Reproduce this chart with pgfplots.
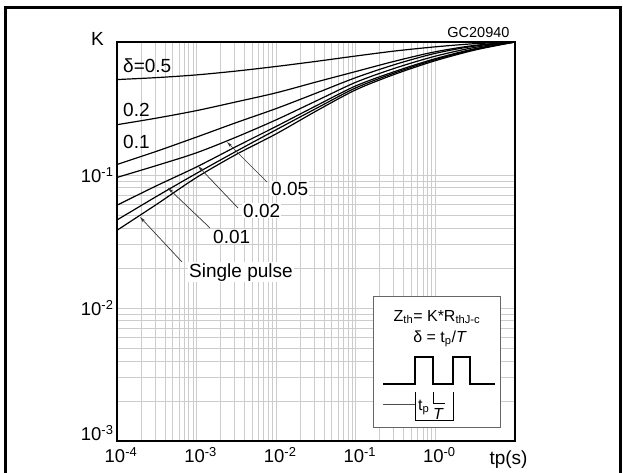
\documentclass[border=0pt]{standalone}
\usepackage{fontspec}
\setmainfont{Liberation Sans}
\usepackage{pgfplots}
\pgfplotsset{compat=1.18}
\usetikzlibrary{arrows.meta}
\begin{document}
\begin{tikzpicture}
\path[use as bounding box, clip] (0pt,0pt) rectangle (623pt,-473pt);
\begin{axis}[
  at={(117pt,-441pt)}, anchor=south west,
  scale only axis, width=398pt, height=399pt,
  xmode=log, ymode=log,
  xmin=1e-4, xmax=10, ymin=1e-3, ymax=1,
  xtick={1e-4,1e-3,1e-2,1e-1,1},
  xticklabels={10\textsuperscript{-4},10\textsuperscript{-3},10\textsuperscript{-2},10\textsuperscript{-1},10\textsuperscript{-0}},
  ytick={1e-3,1e-2,1e-1},
  yticklabels={\raisebox{8pt}[\height][\depth]{10\textsuperscript{-3}},10\textsuperscript{-2},10\textsuperscript{-1}},
  x tick label style={xshift=4pt, yshift=-3pt},
  tick label style={font=\fontsize{18.5}{20}\selectfont},
  grid=both,
  major grid style={draw=gray!40, line width=0.8pt},
  minor grid style={draw=gray!40, line width=0.8pt},
  tick style={draw=none},
  axis line style={line width=1.3pt},
  curve/.style={black, solid, line width=1.2pt, smooth, mark=none},
]
% delta = 0.5
\addplot[curve] coordinates {(1e-4,0.522) (3.16e-4,0.540) (1e-3,0.566) (3.16e-3,0.605) (1e-2,0.655) (3.16e-2,0.715) (1e-1,0.785) (3.16e-1,0.857) (1,0.920) (3.16,0.972) (10,1)};
% delta = 0.2
\addplot[curve] coordinates {(1e-4,0.239) (3.16e-4,0.268) (1e-3,0.305) (3.16e-3,0.355) (1e-2,0.415) (3.16e-2,0.500) (1e-1,0.600) (3.16e-1,0.720) (1,0.845) (3.16,0.944) (10,1)};
% delta = 0.1
\addplot[curve] coordinates {(1e-4,0.120) (3.16e-4,0.151) (1e-3,0.193) (3.16e-3,0.248) (1e-2,0.316) (3.16e-2,0.412) (1e-1,0.540) (3.16e-1,0.680) (1,0.822) (3.16,0.933) (10,1)};
% delta = 0.05
\addplot[curve] coordinates {(1e-4,0.0959) (3.16e-4,0.118) (1e-3,0.147) (3.16e-3,0.193) (1e-2,0.260) (3.16e-2,0.360) (1e-1,0.498) (3.16e-1,0.638) (1,0.783) (3.16,0.912) (10,1)};
% delta = 0.02
\addplot[curve] coordinates {(1e-4,0.0593) (3.16e-4,0.0832) (1e-3,0.115) (3.16e-3,0.164) (1e-2,0.232) (3.16e-2,0.331) (1e-1,0.468) (3.16e-1,0.603) (1,0.750) (3.16,0.891) (10,1)};
% delta = 0.01
\addplot[curve] coordinates {(1e-4,0.0459) (3.16e-4,0.0692) (1e-3,0.103) (3.16e-3,0.151) (1e-2,0.219) (3.16e-2,0.316) (1e-1,0.452) (3.16e-1,0.589) (1,0.738) (3.16,0.881) (10,1)};
% single pulse
\addplot[curve] coordinates {(1e-4,0.0384) (3.16e-4,0.0603) (1e-3,0.0959) (3.16e-3,0.143) (1e-2,0.204) (3.16e-2,0.302) (1e-1,0.437) (3.16e-1,0.575) (1,0.724) (3.16,0.871) (10,1)};
\end{axis}
\begin{scope}[x=1pt,y=-1pt]
\draw[line width=3pt] (5.5,7.5) rectangle (620.5,520);
\node[font=\fontsize{19}{20}\selectfont] at (97.5,38.5) {K};
\node[anchor=base east, font=\fontsize{14.5}{16}\selectfont] at (513,38) {GC20940};
\node[anchor=base west, font=\fontsize{19}{20}\selectfont] at (486,464) {tp(s)};
\begin{scope}[font=\fontsize{19}{20}\selectfont]
\node[anchor=base west, inner sep=0pt] at (123,73) {δ=0.5};
\node[anchor=base west, inner sep=0pt] at (123,117) {0.2};
\node[anchor=base west, inner sep=0pt] at (123,149) {0.1};
\node[anchor=base west, inner sep=1pt, fill=white] at (270,195) {0.05};
\node[anchor=base west, inner sep=1pt, fill=white] at (242,217) {0.02};
\node[anchor=base west, inner sep=1pt, fill=white] at (212,243) {0.01};
\node[anchor=base west, inner sep=1pt, fill=white] at (188,277) {Single pulse};
\end{scope}
\begin{scope}[draw=black!80, line width=0.7pt, -{Stealth[length=6pt,width=3pt]}]
\draw (267,182) -- (227,142);
\draw (238,208) -- (198,166);
\draw (210,228) -- (168,188);
\draw (182,262) -- (140,217);
\end{scope}
% inset
\draw[fill=white, draw=black!60, line width=0.8pt] (373,296) rectangle (500,427);
\node[font=\fontsize{16}{17}\selectfont] at (437,317) {Z\textsubscript{th}= K*R\textsubscript{thJ-c}};
\node[font=\fontsize{16}{17}\selectfont] at (440,339) {δ = t\textsubscript{p}/\textit{T}};
\draw[line width=1.4pt] (383,384) -- (415,384) -- (415,357) -- (433,357) -- (433,384) -- (453,384) -- (453,357) -- (470,357) -- (470,384) -- (495,384);
\draw[line width=0.8pt, black!70] (383,404) -- (415,404);
\draw[line width=0.8pt] (415,392) -- (415,420) -- (453,420) -- (453,392);
\draw[line width=0.8pt] (433,392) -- (433,403) -- (445,403);
\node[font=\fontsize{16}{17}\selectfont, anchor=base west, inner sep=0pt] at (418,410) {t\textsubscript{p}};
\node[font=\fontsize{16}{17}\selectfont\itshape, anchor=base, inner sep=0pt] at (438,419) {T};
\end{scope}
\end{tikzpicture}
\end{document}
